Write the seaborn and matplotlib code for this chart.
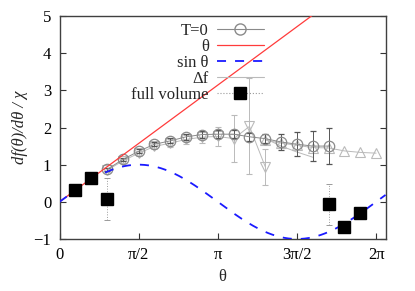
import numpy as np
import pandas as pd
import matplotlib as mpl
mpl.use("Agg")
import matplotlib.pyplot as plt
import seaborn as sns

# theta in units of pi/10
k_t0 = [3, 4, 5, 6, 7, 8, 9, 10, 11, 12, 13, 14, 15, 16, 17]
t0_val = [0.87, 1.14, 1.36, 1.55, 1.64, 1.75, 1.81, 1.82, 1.82, 1.75, 1.70, 1.61, 1.55, 1.50, 1.50]
t0_err = [0.04, 0.05, 0.05, 0.06, 0.07, 0.08, 0.09, 0.10, 0.10, 0.10, 0.12, 0.22, 0.32, 0.41, 0.49]

k_df1 = [3, 4, 5, 6, 7, 8, 9, 10, 11, 12, 13]
df1_val = [0.85, 1.10, 1.31, 1.49, 1.58, 1.68, 1.74, 1.76, 1.70, 2.03, 0.94]
df1_err = [0.05, 0.06, 0.07, 0.08, 0.10, 0.12, 0.15, 0.25, 0.63, 1.29, 0.48]

k_df2 = [13, 14, 15, 16, 17, 18, 19, 20]
df2_val = [1.66, 1.58, 1.52, 1.46, 1.45, 1.37, 1.33, 1.31]

k_df3 = [13, 14, 15, 16]
df3_val = [1.70, 1.50, 1.34, 1.20]

k_fv = [1, 2, 3, 17, 18, 19]
fv_val = [0.32, 0.65, 0.07, -0.07, -0.67, -0.31]
fv_err = [0.04, 0.04, 0.56, 0.56, 0.04, 0.04]

xtick_labels = ["0", "π/2", "π", "3π/2", "2π"]

step = np.pi / 10
sns.set_theme(style="ticks")
plt.rcParams["font.family"] = ["Liberation Serif", "DejaVu Serif"]

fig = plt.figure(figsize=(4.15, 2.91), dpi=100)
ax = fig.add_axes([0.1434, 0.1787, 0.7856, 0.7663])

theta = np.linspace(0, 6.47, 400)
curves = pd.DataFrame({"theta": theta, "lin": theta, "sin": np.sin(theta)})

light = "#bababa"
mid = "#8a8a8a"

# Δf branches
ax.errorbar(np.array(k_df1) * step, df1_val, yerr=df1_err, fmt="v", mfc="none",
            mec=light, ms=7.5, mew=0.8, color=light, ecolor=light, elinewidth=0.7,
            capsize=2.5, capthick=0.7, ls="-", lw=0.7, zorder=2)
ax.plot(np.array(k_df2) * step, df2_val, marker="^", mfc="none", mec=light, ms=7.5,
        mew=0.8, color=light, lw=0.7, zorder=2)
ax.plot(np.array(k_df3) * step, df3_val, color=light, lw=0.7, zorder=2)

# T=0
ax.errorbar(np.array(k_t0) * step, t0_val, yerr=t0_err, fmt="o", mfc="none",
            mec=mid, ms=7.5, mew=0.9, color=mid, ecolor="#555555", elinewidth=0.7,
            capsize=2.5, capthick=0.7, ls="-", lw=0.7, zorder=3)

sns.lineplot(data=curves, x="theta", y="lin", ax=ax, color="#ff3b3b", lw=0.9, zorder=4)
sns.lineplot(data=curves, x="theta", y="sin", ax=ax, color="#1a1aff", lw=1.3,
             dashes=False, zorder=4)
ax.lines[-1].set_dashes([5, 5])

# full volume
fv = ax.errorbar(np.array(k_fv) * step, fv_val, yerr=fv_err, fmt="s", color="black",
                 ms=9, ecolor="#9a9a9a", elinewidth=0.7, capsize=2.5, capthick=0.7,
                 zorder=5)
fv[2][0].set_linestyle(":")

ax.set_xlim(0, 6.47)
ax.set_ylim(-1, 5)
ax.set_xticks([0, np.pi / 2, np.pi, 3 * np.pi / 2, 2 * np.pi])
ax.set_xticklabels(xtick_labels)
ax.set_yticks(range(-1, 6))
ax.tick_params(direction="in", labelsize=12, length=4, width=0.8,
               right=True, colors="#333333", labelcolor="black", pad=6)
for s in ax.spines.values():
    s.set_visible(True)
    s.set_color("#404040")
    s.set_linewidth(1.0)
ax.set_xlabel("θ", fontsize=12, labelpad=4)
ax.set_ylabel("df(θ)/dθ / χ", fontsize=12, style="italic", labelpad=4)

# legend (gnuplot style: text then sample)
h_t0 = mpl.lines.Line2D([], [], color=mid, marker="o", mfc="none", mec=mid, ms=8, lw=0.8)
h_lin = mpl.lines.Line2D([], [], color="#ff3b3b", lw=0.9)
h_sin = mpl.lines.Line2D([], [], color="#1a1aff", lw=1.3, dashes=[5, 5])
h_df = mpl.lines.Line2D([], [], color=light, lw=0.8)
h_fv = mpl.lines.Line2D([], [], color="#9a9a9a", lw=0.8, ls=":", marker="s",
                        mfc="black", mec="black", ms=9)
ax.legend([h_t0, h_lin, h_sin, h_df, h_fv], ["T=0", "θ", "sin θ", "Δf", "full volume"],
          loc="upper right", bbox_to_anchor=(272 / 415, 1 - 15 / 291),
          bbox_transform=fig.transFigure, frameon=False, markerfirst=False,
          fontsize=12, handlelength=2.8, labelspacing=0.0, borderpad=0,
          handletextpad=0.5)

fig.savefig("out.png", dpi=100)
